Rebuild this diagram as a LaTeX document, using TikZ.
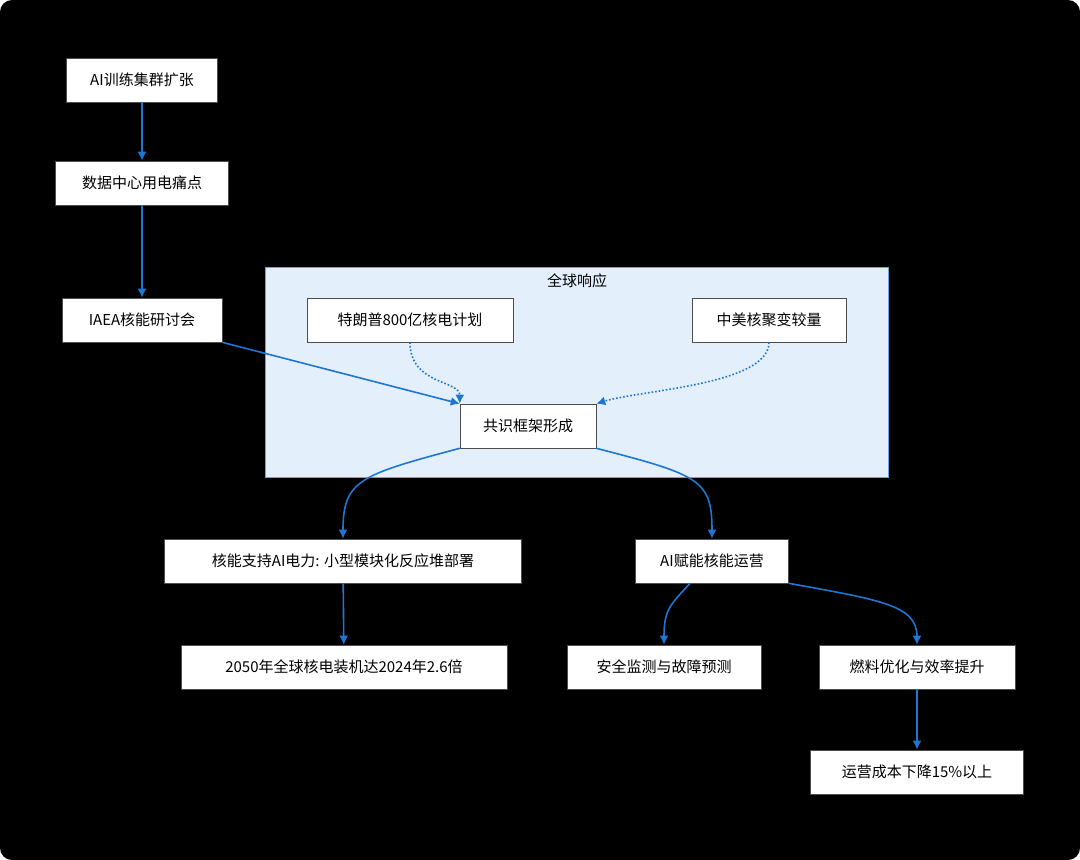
\documentclass[tikz,border=0pt]{standalone}
\usepackage{fontspec}
\setmainfont{Noto Sans CJK SC}
\usetikzlibrary{arrows.meta}
\begin{document}
\begin{tikzpicture}[x=1pt,y=-1pt,
  box/.style={draw=black!70,fill=white,line width=0.6pt,minimum height=44pt,inner xsep=8pt,font=\fontsize{15}{18}\selectfont},
  arr/.style={draw={rgb,255:red,30;green,118;blue,210},line width=1.6pt,-{Latex[length=9pt,width=9pt]}},
  dot/.style={arr,dotted}]
\fill[white] (0,0) rectangle (1080,860);
\fill[black,rounded corners=12pt] (0,0) rectangle (1080,860);
\draw[draw={rgb,255:red,110;green,160;blue,220},fill={rgb,255:red,227;green,240;blue,252},line width=0.8pt] (265,267) rectangle (888,477);
\node[font=\fontsize{15}{18}\selectfont] (grp) at (577,281) {全球响应};
\node[box,minimum width=151pt] (A) at (142,80) {AI训练集群扩张};
\node[box,minimum width=173pt] (B) at (142,183) {数据中心用电痛点};
\node[box,minimum width=160pt] (C) at (142,320) {IAEA核能研讨会};
\node[box,minimum width=206pt] (D) at (410,320) {特朗普800亿核电计划};
\node[box,minimum width=154pt] (E) at (769,320) {中美核聚变较量};
\node[box,minimum width=136pt] (F) at (528,426) {共识框架形成};
\node[box,minimum width=357pt] (G) at (343,561) {核能支持AI电力: 小型模块化反应堆部署};
\node[box,minimum width=153pt] (H) at (712,561) {AI赋能核能运营};
\node[box,minimum width=326pt] (I) at (344,667) {2050年全球核电装机达2024年2.6倍};
\node[box,minimum width=194pt] (J) at (664,667) {安全监测与故障预测};
\node[box,minimum width=196pt] (K) at (917,667) {燃料优化与效率提升};
\node[box,minimum width=213pt] (L) at (917,772) {运营成本下降15\%以上};
\draw[arr] (A) -- (B);
\draw[arr] (B) -- (C);
\draw[arr] (C.south east) -- (F.north west);
\draw[dot] (D.south) .. controls (410,385) and (460,380) .. (F.north west);
\draw[dot] (E.south) .. controls (769,385) and (640,390) .. (F.north east);
\draw[arr] (F.south west) .. controls (360,475) and (343,480) .. (G.north);
\draw[arr] (F.south east) .. controls (700,475) and (712,480) .. (H.north);
\draw[arr] (G) -- (I);
\draw[arr] (H.south -| 690,0) .. controls (670,605) and (664,610) .. (J.north);
\draw[arr] (H.south east) .. controls (880,600) and (917,605) .. (K.north);
\draw[arr] (K) -- (L);
\end{tikzpicture}
\end{document}
